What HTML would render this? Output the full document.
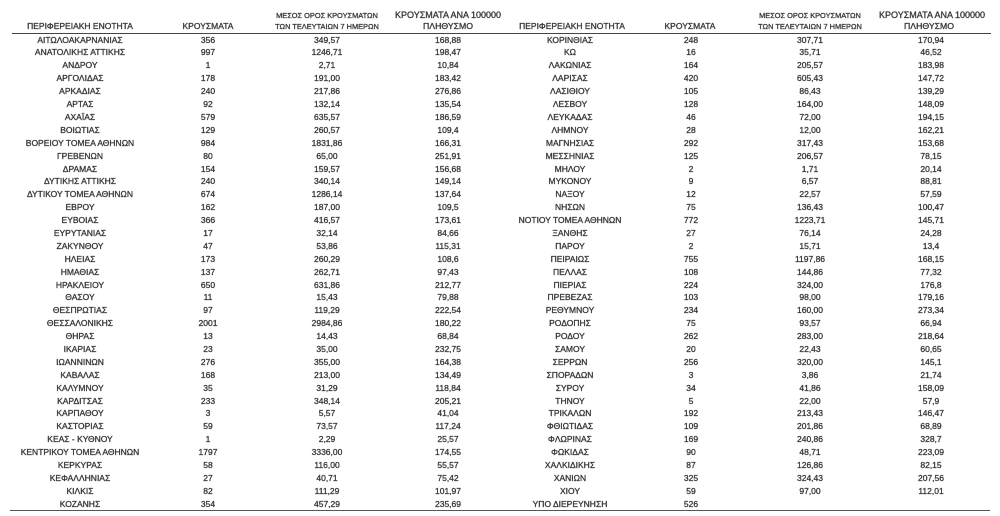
<!DOCTYPE html>
<html>
<head>
<meta charset="utf-8">
<style>
html,body{margin:0;padding:0;background:#fff;}
body{width:1000px;height:516px;position:relative;overflow:hidden;font-family:"Liberation Sans","DejaVu Sans",sans-serif;color:#333;-webkit-text-stroke:0.25px #444;text-shadow:0 0 0.5px rgba(60,60,60,0.6);}
.h{position:absolute;text-align:center;white-space:nowrap;line-height:10px;font-size:8.5px;}
.hs{font-size:7.4px;}
.hb{font-size:9px;}
.line{position:absolute;background:#444;}
.rows{position:absolute;left:0;top:33.6px;width:1000px;}
.row{position:relative;height:12.9px;line-height:12.9px;font-size:8.5px;}
.row span{position:absolute;top:0;text-align:center;white-space:nowrap;}
.c1{left:10px;width:140px;}
.c2{left:168px;width:80px;}
.c3{left:277px;width:100px;}
.c4{left:398px;width:100px;}
.c5{left:500px;width:140px;}
.c6{left:651px;width:80px;}
.c7{left:760px;width:100px;}
.c8{left:881px;width:100px;}
</style>
</head>
<body>
<!-- Headers left -->
<div class="h" style="left:10px;width:140px;top:21px;">ΠΕΡΙΦΕΡΕΙΑΚΗ ΕΝΟΤΗΤΑ</div>
<div class="h" style="left:168px;width:80px;top:21px;">ΚΡΟΥΣΜΑΤΑ</div>
<div class="h hs" style="left:267px;width:120px;top:10.7px;">ΜΕΣΟΣ ΟΡΟΣ ΚΡΟΥΣΜΑΤΩΝ</div>
<div class="h hs" style="left:267px;width:120px;top:21.7px;">ΤΩΝ ΤΕΛΕΥΤΑΙΩΝ 7 ΗΜΕΡΩΝ</div>
<div class="h hb" style="left:378px;width:140px;top:10px;">ΚΡΟΥΣΜΑΤΑ ΑΝΑ 100000</div>
<div class="h" style="left:398px;width:100px;top:21px;font-size:8.7px;">ΠΛΗΘΥΣΜΟ</div>
<!-- Headers right -->
<div class="h" style="left:502px;width:140px;top:21px;">ΠΕΡΙΦΕΡΕΙΑΚΗ ΕΝΟΤΗΤΑ</div>
<div class="h" style="left:650px;width:80px;top:21px;">ΚΡΟΥΣΜΑΤΑ</div>
<div class="h hs" style="left:750px;width:120px;top:10.7px;">ΜΕΣΟΣ ΟΡΟΣ ΚΡΟΥΣΜΑΤΩΝ</div>
<div class="h hs" style="left:750px;width:120px;top:21.7px;">ΤΩΝ ΤΕΛΕΥΤΑΙΩΝ 7 ΗΜΕΡΩΝ</div>
<div class="h hb" style="left:862px;width:140px;top:10px;">ΚΡΟΥΣΜΑΤΑ ΑΝΑ 100000</div>
<div class="h" style="left:879px;width:100px;top:21px;font-size:8.7px;">ΠΛΗΘΥΣΜΟ</div>

<div class="line" style="left:12px;top:32.5px;width:979px;height:1px;"></div>
<div class="line" style="left:10px;top:509.5px;width:980px;height:1.5px;background:#555;"></div>

<div class="rows">
<div class="row"><span class="c1">ΑΙΤΩΛΟΑΚΑΡΝΑΝΙΑΣ</span><span class="c2">356</span><span class="c3">349,57</span><span class="c4">168,88</span><span class="c5">ΚΟΡΙΝΘΙΑΣ</span><span class="c6">248</span><span class="c7">307,71</span><span class="c8">170,94</span></div>
<div class="row"><span class="c1">ΑΝΑΤΟΛΙΚΗΣ ΑΤΤΙΚΗΣ</span><span class="c2">997</span><span class="c3">1246,71</span><span class="c4">198,47</span><span class="c5">ΚΩ</span><span class="c6">16</span><span class="c7">35,71</span><span class="c8">46,52</span></div>
<div class="row"><span class="c1">ΑΝΔΡΟΥ</span><span class="c2">1</span><span class="c3">2,71</span><span class="c4">10,84</span><span class="c5">ΛΑΚΩΝΙΑΣ</span><span class="c6">164</span><span class="c7">205,57</span><span class="c8">183,98</span></div>
<div class="row"><span class="c1">ΑΡΓΟΛΙΔΑΣ</span><span class="c2">178</span><span class="c3">191,00</span><span class="c4">183,42</span><span class="c5">ΛΑΡΙΣΑΣ</span><span class="c6">420</span><span class="c7">605,43</span><span class="c8">147,72</span></div>
<div class="row"><span class="c1">ΑΡΚΑΔΙΑΣ</span><span class="c2">240</span><span class="c3">217,86</span><span class="c4">276,86</span><span class="c5">ΛΑΣΙΘΙΟΥ</span><span class="c6">105</span><span class="c7">86,43</span><span class="c8">139,29</span></div>
<div class="row"><span class="c1">ΑΡΤΑΣ</span><span class="c2">92</span><span class="c3">132,14</span><span class="c4">135,54</span><span class="c5">ΛΕΣΒΟΥ</span><span class="c6">128</span><span class="c7">164,00</span><span class="c8">148,09</span></div>
<div class="row"><span class="c1">ΑΧΑΪΑΣ</span><span class="c2">579</span><span class="c3">635,57</span><span class="c4">186,59</span><span class="c5">ΛΕΥΚΑΔΑΣ</span><span class="c6">46</span><span class="c7">72,00</span><span class="c8">194,15</span></div>
<div class="row"><span class="c1">ΒΟΙΩΤΙΑΣ</span><span class="c2">129</span><span class="c3">260,57</span><span class="c4">109,4</span><span class="c5">ΛΗΜΝΟΥ</span><span class="c6">28</span><span class="c7">12,00</span><span class="c8">162,21</span></div>
<div class="row"><span class="c1">ΒΟΡΕΙΟΥ ΤΟΜΕΑ ΑΘΗΝΩΝ</span><span class="c2">984</span><span class="c3">1831,86</span><span class="c4">166,31</span><span class="c5">ΜΑΓΝΗΣΙΑΣ</span><span class="c6">292</span><span class="c7">317,43</span><span class="c8">153,68</span></div>
<div class="row"><span class="c1">ΓΡΕΒΕΝΩΝ</span><span class="c2">80</span><span class="c3">65,00</span><span class="c4">251,91</span><span class="c5">ΜΕΣΣΗΝΙΑΣ</span><span class="c6">125</span><span class="c7">206,57</span><span class="c8">78,15</span></div>
<div class="row"><span class="c1">ΔΡΑΜΑΣ</span><span class="c2">154</span><span class="c3">159,57</span><span class="c4">156,68</span><span class="c5">ΜΗΛΟΥ</span><span class="c6">2</span><span class="c7">1,71</span><span class="c8">20,14</span></div>
<div class="row"><span class="c1">ΔΥΤΙΚΗΣ ΑΤΤΙΚΗΣ</span><span class="c2">240</span><span class="c3">340,14</span><span class="c4">149,14</span><span class="c5">ΜΥΚΟΝΟΥ</span><span class="c6">9</span><span class="c7">6,57</span><span class="c8">88,81</span></div>
<div class="row"><span class="c1">ΔΥΤΙΚΟΥ ΤΟΜΕΑ ΑΘΗΝΩΝ</span><span class="c2">674</span><span class="c3">1286,14</span><span class="c4">137,64</span><span class="c5">ΝΑΞΟΥ</span><span class="c6">12</span><span class="c7">22,57</span><span class="c8">57,59</span></div>
<div class="row"><span class="c1">ΕΒΡΟΥ</span><span class="c2">162</span><span class="c3">187,00</span><span class="c4">109,5</span><span class="c5">ΝΗΣΩΝ</span><span class="c6">75</span><span class="c7">136,43</span><span class="c8">100,47</span></div>
<div class="row"><span class="c1">ΕΥΒΟΙΑΣ</span><span class="c2">366</span><span class="c3">416,57</span><span class="c4">173,61</span><span class="c5">ΝΟΤΙΟΥ ΤΟΜΕΑ ΑΘΗΝΩΝ</span><span class="c6">772</span><span class="c7">1223,71</span><span class="c8">145,71</span></div>
<div class="row"><span class="c1">ΕΥΡΥΤΑΝΙΑΣ</span><span class="c2">17</span><span class="c3">32,14</span><span class="c4">84,66</span><span class="c5">ΞΑΝΘΗΣ</span><span class="c6">27</span><span class="c7">76,14</span><span class="c8">24,28</span></div>
<div class="row"><span class="c1">ΖΑΚΥΝΘΟΥ</span><span class="c2">47</span><span class="c3">53,86</span><span class="c4">115,31</span><span class="c5">ΠΑΡΟΥ</span><span class="c6">2</span><span class="c7">15,71</span><span class="c8">13,4</span></div>
<div class="row"><span class="c1">ΗΛΕΙΑΣ</span><span class="c2">173</span><span class="c3">260,29</span><span class="c4">108,6</span><span class="c5">ΠΕΙΡΑΙΩΣ</span><span class="c6">755</span><span class="c7">1197,86</span><span class="c8">168,15</span></div>
<div class="row"><span class="c1">ΗΜΑΘΙΑΣ</span><span class="c2">137</span><span class="c3">262,71</span><span class="c4">97,43</span><span class="c5">ΠΕΛΛΑΣ</span><span class="c6">108</span><span class="c7">144,86</span><span class="c8">77,32</span></div>
<div class="row"><span class="c1">ΗΡΑΚΛΕΙΟΥ</span><span class="c2">650</span><span class="c3">631,86</span><span class="c4">212,77</span><span class="c5">ΠΙΕΡΙΑΣ</span><span class="c6">224</span><span class="c7">324,00</span><span class="c8">176,8</span></div>
<div class="row"><span class="c1">ΘΑΣΟΥ</span><span class="c2">11</span><span class="c3">15,43</span><span class="c4">79,88</span><span class="c5">ΠΡΕΒΕΖΑΣ</span><span class="c6">103</span><span class="c7">98,00</span><span class="c8">179,16</span></div>
<div class="row"><span class="c1">ΘΕΣΠΡΩΤΙΑΣ</span><span class="c2">97</span><span class="c3">119,29</span><span class="c4">222,54</span><span class="c5">ΡΕΘΥΜΝΟΥ</span><span class="c6">234</span><span class="c7">160,00</span><span class="c8">273,34</span></div>
<div class="row"><span class="c1">ΘΕΣΣΑΛΟΝΙΚΗΣ</span><span class="c2">2001</span><span class="c3">2984,86</span><span class="c4">180,22</span><span class="c5">ΡΟΔΟΠΗΣ</span><span class="c6">75</span><span class="c7">93,57</span><span class="c8">66,94</span></div>
<div class="row"><span class="c1">ΘΗΡΑΣ</span><span class="c2">13</span><span class="c3">14,43</span><span class="c4">68,84</span><span class="c5">ΡΟΔΟΥ</span><span class="c6">262</span><span class="c7">283,00</span><span class="c8">218,64</span></div>
<div class="row"><span class="c1">ΙΚΑΡΙΑΣ</span><span class="c2">23</span><span class="c3">35,00</span><span class="c4">232,75</span><span class="c5">ΣΑΜΟΥ</span><span class="c6">20</span><span class="c7">22,43</span><span class="c8">60,65</span></div>
<div class="row"><span class="c1">ΙΩΑΝΝΙΝΩΝ</span><span class="c2">276</span><span class="c3">355,00</span><span class="c4">164,38</span><span class="c5">ΣΕΡΡΩΝ</span><span class="c6">256</span><span class="c7">320,00</span><span class="c8">145,1</span></div>
<div class="row"><span class="c1">ΚΑΒΑΛΑΣ</span><span class="c2">168</span><span class="c3">213,00</span><span class="c4">134,49</span><span class="c5">ΣΠΟΡΑΔΩΝ</span><span class="c6">3</span><span class="c7">3,86</span><span class="c8">21,74</span></div>
<div class="row"><span class="c1">ΚΑΛΥΜΝΟΥ</span><span class="c2">35</span><span class="c3">31,29</span><span class="c4">118,84</span><span class="c5">ΣΥΡΟΥ</span><span class="c6">34</span><span class="c7">41,86</span><span class="c8">158,09</span></div>
<div class="row"><span class="c1">ΚΑΡΔΙΤΣΑΣ</span><span class="c2">233</span><span class="c3">348,14</span><span class="c4">205,21</span><span class="c5">ΤΗΝΟΥ</span><span class="c6">5</span><span class="c7">22,00</span><span class="c8">57,9</span></div>
<div class="row"><span class="c1">ΚΑΡΠΑΘΟΥ</span><span class="c2">3</span><span class="c3">5,57</span><span class="c4">41,04</span><span class="c5">ΤΡΙΚΑΛΩΝ</span><span class="c6">192</span><span class="c7">213,43</span><span class="c8">146,47</span></div>
<div class="row"><span class="c1">ΚΑΣΤΟΡΙΑΣ</span><span class="c2">59</span><span class="c3">73,57</span><span class="c4">117,24</span><span class="c5">ΦΘΙΩΤΙΔΑΣ</span><span class="c6">109</span><span class="c7">201,86</span><span class="c8">68,89</span></div>
<div class="row"><span class="c1">ΚΕΑΣ - ΚΥΘΝΟΥ</span><span class="c2">1</span><span class="c3">2,29</span><span class="c4">25,57</span><span class="c5">ΦΛΩΡΙΝΑΣ</span><span class="c6">169</span><span class="c7">240,86</span><span class="c8">328,7</span></div>
<div class="row"><span class="c1">ΚΕΝΤΡΙΚΟΥ ΤΟΜΕΑ ΑΘΗΝΩΝ</span><span class="c2">1797</span><span class="c3">3336,00</span><span class="c4">174,55</span><span class="c5">ΦΩΚΙΔΑΣ</span><span class="c6">90</span><span class="c7">48,71</span><span class="c8">223,09</span></div>
<div class="row"><span class="c1">ΚΕΡΚΥΡΑΣ</span><span class="c2">58</span><span class="c3">116,00</span><span class="c4">55,57</span><span class="c5">ΧΑΛΚΙΔΙΚΗΣ</span><span class="c6">87</span><span class="c7">126,86</span><span class="c8">82,15</span></div>
<div class="row"><span class="c1">ΚΕΦΑΛΛΗΝΙΑΣ</span><span class="c2">27</span><span class="c3">40,71</span><span class="c4">75,42</span><span class="c5">ΧΑΝΙΩΝ</span><span class="c6">325</span><span class="c7">324,43</span><span class="c8">207,56</span></div>
<div class="row"><span class="c1">ΚΙΛΚΙΣ</span><span class="c2">82</span><span class="c3">111,29</span><span class="c4">101,97</span><span class="c5">ΧΙΟΥ</span><span class="c6">59</span><span class="c7">97,00</span><span class="c8">112,01</span></div>
<div class="row"><span class="c1">ΚΟΖΑΝΗΣ</span><span class="c2">354</span><span class="c3">457,29</span><span class="c4">235,69</span><span class="c5">ΥΠΟ ΔΙΕΡΕΥΝΗΣΗ</span><span class="c6">526</span></div>
</div>
</body>
</html>
